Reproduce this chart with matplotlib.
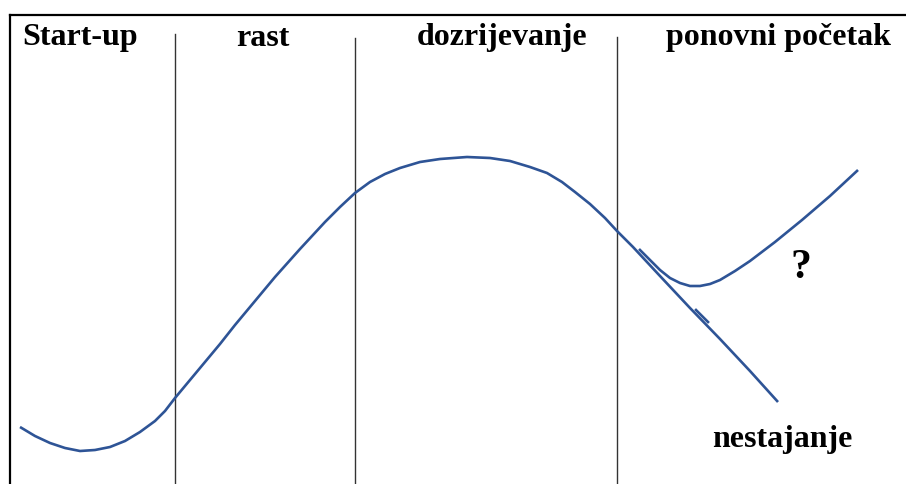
import numpy as np
import matplotlib.pyplot as plt

# faze zivotnog ciklusa
faze = ['Start-up', 'rast', 'dozrijevanje', 'ponovni početak']
faze_x = [80, 263, 502, 779]
granice = [175, 355, 617]

# glavna krivulja (pikseli slike, y prema dolje)
krivulja_x = [20, 35, 50, 65, 80, 95, 110, 125, 140, 155, 165, 175, 190,
              205, 220, 235, 250, 275, 300, 325, 340, 355, 370, 385, 400,
              420, 440, 467, 490, 510, 530, 547, 562, 575, 590, 605, 617,
              633, 660, 690, 720, 750, 778]
krivulja_y = [427, 436, 443, 448, 451, 450, 447, 441, 432, 421, 411, 398, 380,
              362, 344, 325, 307, 277, 249, 222, 207, 193, 182, 174, 168,
              162, 159, 157, 158, 161, 167, 173, 182, 192, 204, 218, 231,
              247, 276, 308, 339, 371, 402]

# ponovni pocetak
oporavak_x = [639, 650, 660, 670, 680, 690, 700, 710, 720, 735, 750, 775,
              802, 830, 858]
oporavak_y = [249, 260, 270, 278, 283, 286, 286, 284, 280, 271, 261, 242,
              220, 196, 170]

plava = '#2E5496'

fig = plt.figure(figsize=(9.06, 4.84), dpi=100)
ax = fig.add_axes([0, 0, 1, 1])
ax.set_xlim(0, 906)
ax.set_ylim(484, 0)
ax.axis('off')

# okvir
ax.plot([10, 906], [15, 15], color='black', lw=1.6)
ax.plot([10, 10], [15, 484], color='black', lw=1.6)

# granice faza
for gx, gy in zip(granice, [34, 38, 37]):
    ax.plot([gx, gx], [gy, 484], color='#333333', lw=1.0)

ax.plot(krivulja_x, krivulja_y, color=plava, lw=1.9,
        solid_capstyle='butt', solid_joinstyle='round')
ax.plot(oporavak_x, oporavak_y, color=plava, lw=1.9,
        solid_capstyle='butt', solid_joinstyle='round')
ax.plot([696, 708], [310, 322], color=plava, lw=1.9)

font = dict(family='Liberation Serif', weight='bold', fontsize=23)
for tekst, x in zip(faze, faze_x):
    ax.text(x, 38, tekst, ha='center', va='center', **font)
ax.text(801, 268, '?', ha='center', va='center', family='Liberation Serif',
        weight='bold', fontsize=30)
ax.text(782, 440, 'nestajanje', ha='center', va='center', **font)

fig.savefig('out.png', dpi=100)
